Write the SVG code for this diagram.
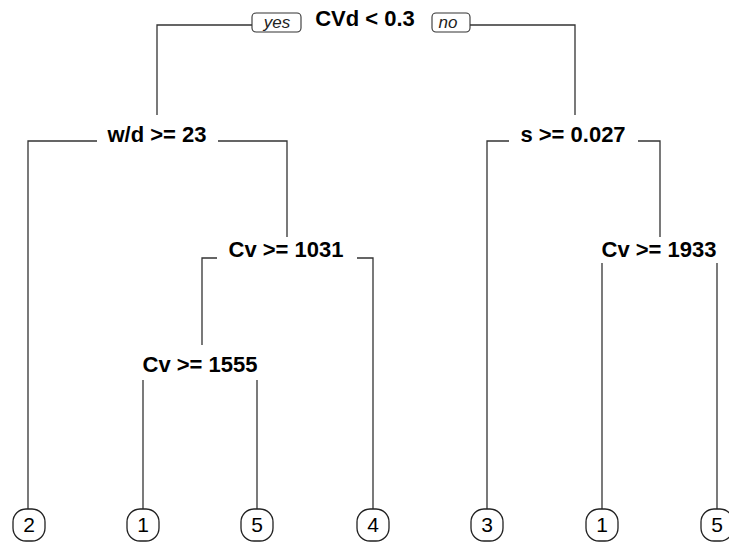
<svg xmlns="http://www.w3.org/2000/svg" width="729" height="543" viewBox="0 0 729 543">
<style>
.bg{fill:#ffffff}
.e{fill:none;stroke:#333333;stroke-width:1.3}
.split{font-family:"Liberation Sans",Arial,sans-serif;font-weight:bold;font-size:22px;fill:#000;text-anchor:middle}
.lab{font-family:"Liberation Sans",Arial,sans-serif;font-style:italic;font-size:17px;fill:#222;text-anchor:middle}
.lbox{fill:#fff;stroke:#333;stroke-width:1.1}
.leaf{fill:#fff;stroke:#222;stroke-width:1.3}
.lt{font-family:"Liberation Sans",Arial,sans-serif;font-size:21px;fill:#000;text-anchor:middle}
</style>
<rect class="bg" x="0" y="0" width="729" height="543"/>
<g id="connectors">
<path class="e" d="M252,25 H157 V115"/>
<path class="e" d="M470,25 H575 V115"/>
<path class="e" d="M97,141 H28 V509"/>
<path class="e" d="M218,141 H287 V237"/>
<path class="e" d="M509,141 H487 V509"/>
<path class="e" d="M638,141 H660 V237"/>
<path class="e" d="M217,258 H202 V345"/>
<path class="e" d="M357,258 H373 V509"/>
<path class="e" d="M143,380 V509"/>
<path class="e" d="M257,380 V509"/>
<path class="e" d="M602,263 V509"/>
<path class="e" d="M717,263 V509"/>
</g>
<g id="n1">
<text class="split" x="365" y="26">CVd &lt; 0.3</text>
<rect class="lbox" x="252" y="13" width="49" height="19" rx="4"/>
<text class="lab" x="277" y="28">yes</text>
<rect class="lbox" x="432" y="13" width="38" height="19" rx="4"/>
<text class="lab" x="448" y="28">no</text>
</g>
<g id="n2"><text class="split" x="157" y="142">w/d &gt;= 23</text></g>
<g id="n3"><text class="split" x="573" y="142">s &gt;= 0.027</text></g>
<g id="n4"><text class="split" x="286" y="257">Cv &gt;= 1031</text></g>
<g id="n5"><text class="split" x="659" y="257">Cv &gt;= 1933</text></g>
<g id="n6"><text class="split" x="200" y="372">Cv &gt;= 1555</text></g>
<g id="leaf2"><rect class="leaf" x="13" y="509" width="32" height="32" rx="13"/><text class="lt" x="29" y="532">2</text></g>
<g id="leaf1a"><rect class="leaf" x="127" y="509" width="32" height="32" rx="13"/><text class="lt" x="143" y="532">1</text></g>
<g id="leaf5a"><rect class="leaf" x="241" y="509" width="32" height="32" rx="13"/><text class="lt" x="257" y="532">5</text></g>
<g id="leaf4"><rect class="leaf" x="357" y="509" width="32" height="32" rx="13"/><text class="lt" x="373" y="532">4</text></g>
<g id="leaf3"><rect class="leaf" x="471" y="509" width="32" height="32" rx="13"/><text class="lt" x="487" y="532">3</text></g>
<g id="leaf1b"><rect class="leaf" x="586" y="509" width="32" height="32" rx="13"/><text class="lt" x="602" y="532">1</text></g>
<g id="leaf5b"><rect class="leaf" x="701" y="509" width="32" height="32" rx="13"/><text class="lt" x="717" y="532">5</text></g>
</svg>
